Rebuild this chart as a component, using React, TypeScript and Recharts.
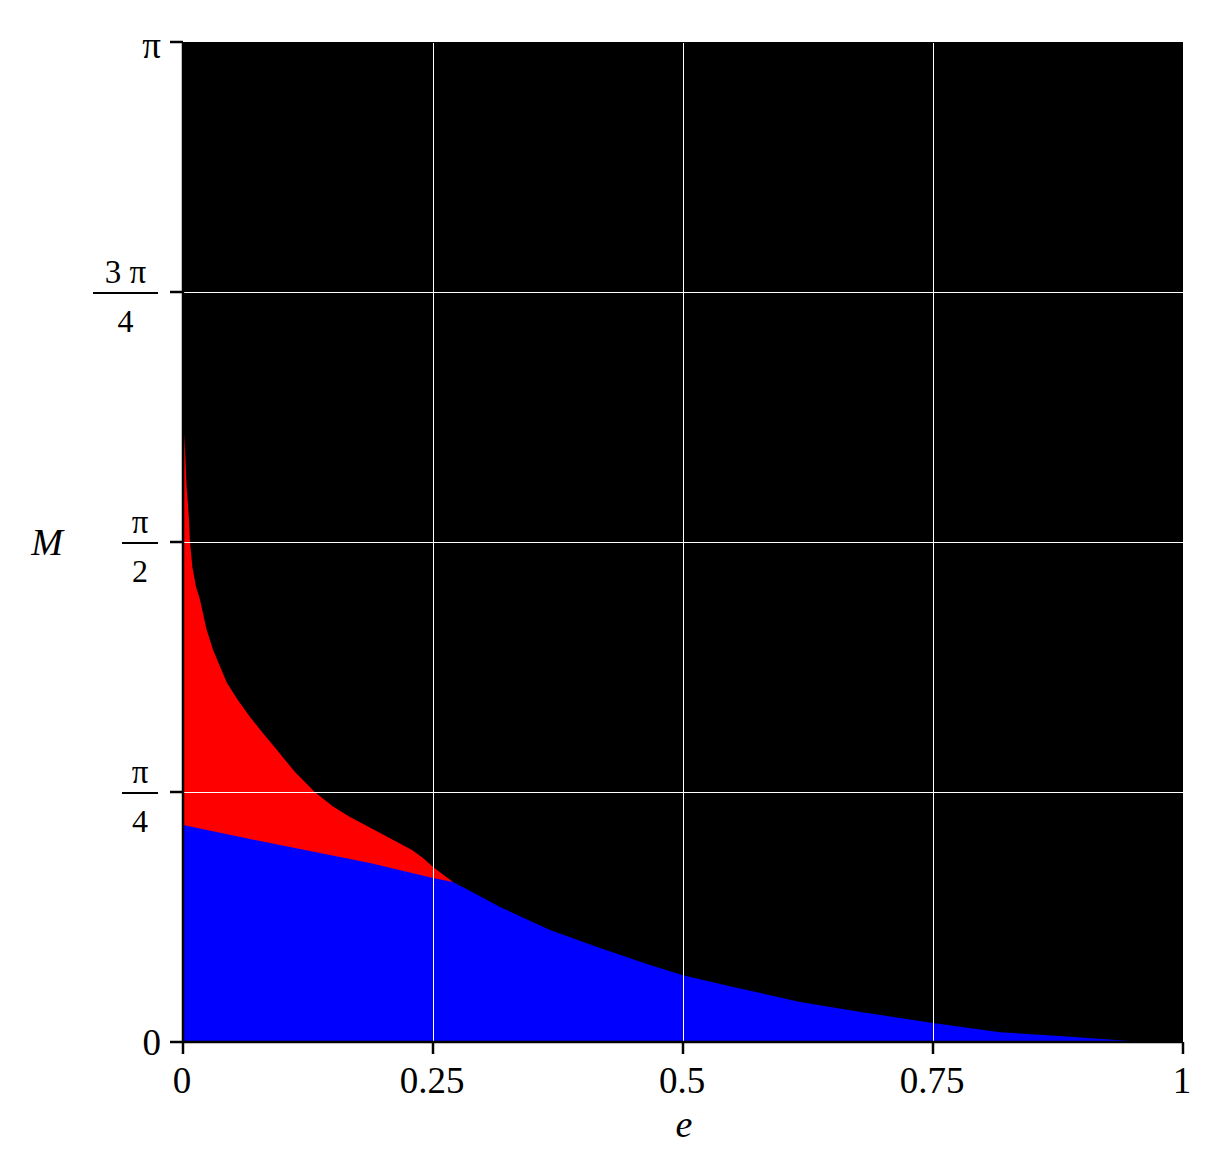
import React from 'react';
import { ComposedChart, Area, XAxis, YAxis, CartesianGrid, ReferenceLine, Label } from 'recharts';

// Upper (red) boundary: eccentricity e and mean anomaly M (radians)
const redE = [0, 0.0015, 0.0025, 0.0035, 0.005, 0.006, 0.007, 0.0094, 0.013, 0.017, 0.0234, 0.03, 0.037, 0.044, 0.055, 0.067, 0.08, 0.094, 0.112, 0.132, 0.15, 0.167, 0.2, 0.229, 0.24, 0.25, 0.27];
const redM = [1.97, 1.885, 1.835, 1.75, 1.687, 1.64, 1.571, 1.492, 1.43, 1.389, 1.298, 1.232, 1.18, 1.128, 1.074, 1.021, 0.97, 0.917, 0.848, 0.785, 0.74, 0.707, 0.652, 0.603, 0.578, 0.55, 0.503];

// Lower (blue) boundary
const blueE = [0, 0.087, 0.187, 0.25, 0.27, 0.29, 0.317, 0.367, 0.417, 0.467, 0.5, 0.55, 0.617, 0.684, 0.75, 0.817, 0.884, 0.94, 0.96, 1];
const blueM = [0.682, 0.625, 0.562, 0.515, 0.503, 0.47, 0.424, 0.352, 0.295, 0.242, 0.21, 0.173, 0.126, 0.091, 0.06, 0.031, 0.017, 0.005, 0, 0];

const xTicks = [0, 0.25, 0.5, 0.75, 1];
const xTickLabels = ['0', '0.25', '0.5', '0.75', '1'];
const yTicks = [0, Math.PI / 4, Math.PI / 2, (3 * Math.PI) / 4, Math.PI];
const yTickNum = ['0', 'π', 'π', '3 π', 'π'];
const yTickDen = ['', '4', '2', '4', ''];
const xGrid = [0.25, 0.5, 0.75];
const yGrid = [Math.PI / 4, Math.PI / 2, (3 * Math.PI) / 4];

const redData = redE.map((e, i) => ({ e, m: redM[i] }));
const blueData = blueE.map((e, i) => ({ e, m: blueM[i] }));

const FONT = '"Liberation Serif", "Times New Roman", serif';

const YTick = (props: any) => {
  const { x, y, payload } = props;
  const i = yTicks.findIndex((v) => Math.abs(v - payload.value) < 1e-6);
  if (i < 0) return null;
  const num = yTickNum[i];
  const den = yTickDen[i];
  if (!den) {
    return (
      <text x={x - 9} y={y + (num === 'π' ? 16 : 13)} textAnchor="end" fontFamily={FONT} fontSize={37} fill="#000">
        {num}
      </text>
    );
  }
  const w = num.length > 1 ? 65 : 36;
  const right = x - 12;
  const cx = right - w / 2;
  return (
    <g>
      <text x={cx} y={y - 9} textAnchor="middle" fontFamily={FONT} fontSize={33} fill="#000">
        {num}
      </text>
      <line x1={right - w} x2={right} y1={y + 1} y2={y + 1} stroke="#000" strokeWidth={2} />
      <text x={cx} y={y + 40} textAnchor="middle" fontFamily={FONT} fontSize={32} fill="#000">
        {den}
      </text>
    </g>
  );
};

const XTick = (props: any) => {
  const { x, y, payload } = props;
  const i = xTicks.findIndex((v) => Math.abs(v - payload.value) < 1e-9);
  if (i < 0) return null;
  return (
    <text x={x - 1} y={y + 39} textAnchor="middle" fontFamily={FONT} fontSize={37} fill="#000">
      {xTickLabels[i]}
    </text>
  );
};

const YLabel = (props: any) => {
  const vb = props.viewBox || { x: 0, y: 34, width: 175, height: 1000 };
  return (
    <text x={vb.x + 39} y={vb.y + vb.height / 2 + 13} textAnchor="middle" fontFamily={FONT} fontStyle="italic" fontSize={38} fill="#000">
      M
    </text>
  );
};

const XLabel = (props: any) => {
  const vb = props.viewBox || { x: 175, y: 1034, width: 1000, height: 116 };
  return (
    <text x={vb.x + vb.width / 2 + 1} y={vb.y + 95} textAnchor="middle" fontFamily={FONT} fontStyle="italic" fontSize={38} fill="#000">
      e
    </text>
  );
};

const GridLine = (props: any) => {
  const { x1, y1, x2, y2 } = props;
  if ([x1, y1, x2, y2].some((v) => typeof v !== 'number' || isNaN(v))) return null;
  return (
    <line
      x1={x1 + 0.5}
      x2={x2 + 0.5}
      y1={y1 + 0.5}
      y2={y2 + 0.5}
      stroke="#fff"
      strokeWidth={1}
      shapeRendering="crispEdges"
    />
  );
};

export default function App() {
  return (
    <div style={{ width: 1200, height: 1150 }}>
      <ComposedChart width={1200} height={1150} margin={{ top: 34, right: 25, bottom: 0, left: 0 }}>
        <CartesianGrid fill="#000" horizontal={false} vertical={false} stroke="none" />
        <XAxis
          dataKey="e"
          type="number"
          domain={[0, 1]}
          ticks={xTicks}
          allowDataOverflow
          height={116}
          tickSize={12}
          tickMargin={0}
          axisLine={{ stroke: '#000', strokeWidth: 2.5 }}
          tickLine={{ stroke: '#000', strokeWidth: 2.5 }}
          tick={<XTick />}
          interval={0}
        >
          <Label content={<XLabel />} />
        </XAxis>
        <YAxis
          type="number"
          domain={[0, Math.PI]}
          ticks={yTicks}
          allowDataOverflow
          width={175}
          tickSize={13}
          tickMargin={0}
          axisLine={{ stroke: '#000', strokeWidth: 2.5 }}
          tickLine={{ stroke: '#000', strokeWidth: 2.5 }}
          tick={<YTick />}
          interval={0}
        >
          <Label content={<YLabel />} />
        </YAxis>
        <Area
          data={redData}
          dataKey="m"
          type="linear"
          stroke="none"
          fill="#ff0000"
          fillOpacity={1}
          isAnimationActive={false}
          dot={false}
          activeDot={false}
        />
        <Area
          data={blueData}
          dataKey="m"
          type="linear"
          stroke="none"
          fill="#0000ff"
          fillOpacity={1}
          isAnimationActive={false}
          dot={false}
          activeDot={false}
        />
        {xGrid.map((v) => (
          <ReferenceLine key={'x' + v} x={v} stroke="#fff" strokeWidth={1} shape={(p: any) => <GridLine {...p} />} />
        ))}
        {yGrid.map((v) => (
          <ReferenceLine key={'y' + v} y={v} stroke="#fff" strokeWidth={1} shape={(p: any) => <GridLine {...p} />} />
        ))}
      </ComposedChart>
    </div>
  );
}
